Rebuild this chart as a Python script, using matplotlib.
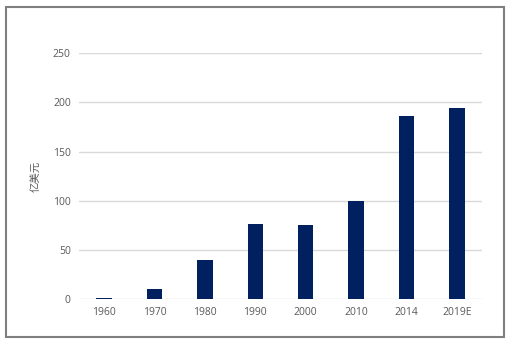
import matplotlib
matplotlib.use("Agg")
import matplotlib.pyplot as plt
from matplotlib.patches import Rectangle

plt.rcParams['font.family'] = ['Noto Sans CJK SC', 'DejaVu Sans']

categories = ["1960", "1970", "1980", "1990", "2000", "2010", "2014", "2019E"]
values = [1, 10, 40, 76.5, 75, 100, 186.5, 194.5]
yticks = [0, 50, 100, 150, 200, 250]
ylabel = "亿美元"

fig = plt.figure(figsize=(5.1, 3.43), dpi=100)
ax = fig.add_axes([0.155, 0.128, 0.79, 0.717])
x = list(range(len(categories)))
ax.bar(x, values, width=0.31, color="#002060", zorder=3)
ax.set_xlim(-0.5, len(categories) - 0.5)
ax.set_ylim(0, 250)
ax.set_yticks(yticks)
ax.set_xticks(x)
ax.set_xticklabels(categories)
ax.grid(axis="y", color="#d9d9d9", linewidth=1, zorder=0)
for s in ax.spines.values():
    s.set_visible(False)
ax.tick_params(length=0, labelsize=7.5, labelcolor="#595959", pad=6)
for lab in ax.get_xticklabels() + ax.get_yticklabels():
    lab.set_family(['Open Sans', 'DejaVu Sans'])
ax.set_ylabel(ylabel, color="#595959", fontsize=7.5, labelpad=8)

fig.patches.append(Rectangle((0.012, 0.018), 0.976, 0.963, transform=fig.transFigure,
                             fill=False, edgecolor="#7f7f7f", linewidth=1.5))
fig.savefig("out.png", dpi=100)
